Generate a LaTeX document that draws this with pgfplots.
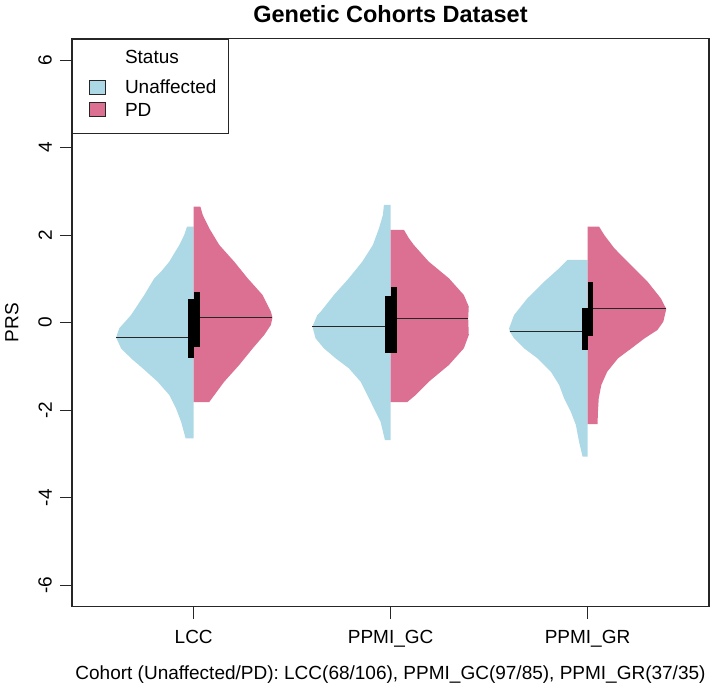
\documentclass[border=0pt]{standalone}
\usepackage{fontspec}
\setmainfont{Liberation Sans}
\usepackage{pgfplots}
\pgfplotsset{compat=1.18}
\definecolor{ublue}{RGB}{173,216,230}
\definecolor{pdpink}{RGB}{219,112,147}
\newcommand{\lbl}{\fontsize{19}{23}\selectfont}
\begin{document}
\begin{tikzpicture}
\path[use as bounding box] (0,0) rectangle (717pt,687pt);
\begin{axis}[
  at={(72pt,80.3pt)}, anchor=south west,
  scale only axis, width=637pt, height=568pt,
  xmin=0.382, xmax=3.617, ymin=-6.49, ymax=6.49,
  xtick={1,2,3}, xticklabels={LCC,PPMI\_GC,PPMI\_GR},
  ytick={-6,-4,-2,0,2,4,6}, yticklabels={-6,-4,-2,0,2,4,6},
  xtick pos=bottom, ytick pos=left,
  tick align=outside, major tick length=12pt,
  every tick/.style={black!85, line width=1.2pt},
  axis line style={black!85, line width=1.2pt},
  tick label style={font=\lbl},
  xticklabel style={anchor=north, inner sep=0pt},
  yticklabel style={rotate=90, anchor=south, inner sep=0pt},
  xticklabel shift=11pt, yticklabel shift=8pt,
  label style={font=\lbl},
  xlabel={Cohort (Unaffected/PD): LCC(68/106), PPMI\_GC(97/85), PPMI\_GR(37/35)},
  xlabel style={at={(axis description cs:0.5,-0.1278)}, anchor=base},
  ylabel={PRS},
  ylabel style={at={(axis description cs:-0.084,0.5)}, anchor=base},
  title={Genetic Cohorts Dataset},
  title style={font=\bfseries\fontsize{23.5}{28}\selectfont, at={(axis description cs:0.5,1.0179)}, anchor=base},
  legend image code/.code={\path (0pt,0pt); \draw[#1] (6pt,0pt) rectangle (22pt,14pt);},
  legend style={at={(0,1)}, anchor=north west, draw=black!85, line width=1.2pt, fill=white,
    inner xsep=10pt, inner ysep=8.2pt, row sep=2.9pt, column sep=17.7pt,
    font=\lbl,
    cells={anchor=base west, inner sep=0pt, text height=14pt, text depth=6.4pt}},
]
% ---- LCC ----
\addplot[fill=ublue, draw=none, forget plot] coordinates {
 (1,-2.642) (0.959,-2.642) (0.936,-2.263) (0.910,-1.957) (0.876,-1.653) (0.817,-1.349)
 (0.741,-1.042) (0.682,-0.814) (0.631,-0.585) (0.606,-0.338) (0.622,-0.128) (0.682,0.176)
 (0.749,0.633) (0.800,1.015) (0.834,1.166) (0.876,1.394) (0.927,1.776) (0.952,2.005)
 (0.966,2.194) (1,2.194)} --cycle;
\addplot[fill=pdpink, draw=none, forget plot] coordinates {
 (1,-1.813) (1.079,-1.813) (1.105,-1.653) (1.155,-1.349) (1.231,-0.967) (1.300,-0.585)
 (1.358,-0.281) (1.392,-0.053) (1.400,0.12) (1.392,0.251) (1.350,0.633) (1.274,1.015)
 (1.206,1.394) (1.130,1.776) (1.079,2.158) (1.046,2.462) (1.034,2.651) (1,2.651)} --cycle;
% ---- PPMI_GC ----
\addplot[fill=ublue, draw=none, forget plot] coordinates {
 (2,-2.682) (1.971,-2.682) (1.949,-2.263) (1.915,-1.957) (1.882,-1.653) (1.848,-1.349)
 (1.788,-1.042) (1.721,-0.814) (1.661,-0.585) (1.619,-0.357) (1.603,-0.091) (1.628,0.176)
 (1.645,0.251) (1.712,0.633) (1.788,1.015) (1.856,1.394) (1.910,1.776) (1.941,2.158)
 (1.961,2.462) (1.966,2.690) (2,2.690)} --cycle;
\addplot[fill=pdpink, draw=none, forget plot] coordinates {
 (2,-1.813) (2.085,-1.813) (2.127,-1.653) (2.194,-1.349) (2.296,-0.967) (2.372,-0.585)
 (2.397,-0.281) (2.394,0.101) (2.397,0.366) (2.372,0.633) (2.296,1.015) (2.194,1.394)
 (2.118,1.776) (2.093,1.929) (2.068,2.119) (2,2.119)} --cycle;
% ---- PPMI_GR ----
\addplot[fill=ublue, draw=none, forget plot] coordinates {
 (3,-3.063) (2.975,-3.063) (2.957,-2.72) (2.941,-2.338) (2.915,-2.034) (2.881,-1.728)
 (2.856,-1.424) (2.814,-1.12) (2.746,-0.814) (2.678,-0.585) (2.627,-0.357) (2.605,-0.2)
 (2.602,-0.128) (2.627,0.176) (2.695,0.558) (2.780,0.937) (2.856,1.243) (2.898,1.433)
 (3,1.433)} --cycle;
\addplot[fill=pdpink, draw=none, forget plot] coordinates {
 (3,-2.315) (3.051,-2.315) (3.053,-2.034) (3.057,-1.728) (3.070,-1.424) (3.100,-1.12)
 (3.155,-0.814) (3.235,-0.545) (3.290,-0.357) (3.355,-0.167) (3.385,0.023) (3.400,0.313)
 (3.372,0.558) (3.305,0.937) (3.220,1.319) (3.136,1.701) (3.085,2.005) (3.059,2.194)
 (3,2.194)} --cycle;
% ---- medians ----
\addplot[black!85, line width=1pt, forget plot] coordinates {(0.606,-0.334) (1,-0.334)};
\addplot[black!85, line width=1pt, forget plot] coordinates {(1,0.115) (1.400,0.115)};
\addplot[black!85, line width=1pt, forget plot] coordinates {(1.603,-0.091) (2,-0.091)};
\addplot[black!85, line width=1pt, forget plot] coordinates {(2,0.10) (2.394,0.10)};
\addplot[black!85, line width=1pt, forget plot] coordinates {(2.605,-0.2) (3,-0.2)};
\addplot[black!85, line width=1pt, forget plot] coordinates {(3,0.33) (3.400,0.33)};
% ---- IQR boxes ----
\addplot[fill=black, draw=none, forget plot] coordinates {(0.972,-0.80) (1,-0.80) (1,0.535) (0.972,0.535)} --cycle;
\addplot[fill=black, draw=none, forget plot] coordinates {(1,-0.56) (1.03,-0.56) (1.03,0.71) (1,0.71)} --cycle;
\addplot[fill=black, draw=none, forget plot] coordinates {(1.972,-0.70) (2,-0.70) (2,0.61) (1.972,0.61)} --cycle;
\addplot[fill=black, draw=none, forget plot] coordinates {(2,-0.70) (2.03,-0.70) (2.03,0.81) (2,0.81)} --cycle;
\addplot[fill=black, draw=none, forget plot] coordinates {(2.972,-0.62) (3,-0.62) (3,0.33) (2.972,0.33)} --cycle;
\addplot[fill=black, draw=none, forget plot] coordinates {(3,-0.30) (3.03,-0.30) (3.03,0.93) (3,0.93)} --cycle;
% ---- legend ----
\addlegendimage{empty legend}
\addlegendentry[text depth=9.5pt]{Status}
\addlegendimage{fill=ublue, draw=black!85, line width=0.7pt}
\addlegendentry{Unaffected}
\addlegendimage{fill=pdpink, draw=black!85, line width=0.7pt}
\addlegendentry[text depth=7.1pt]{PD}
\end{axis}
\end{tikzpicture}
\end{document}
